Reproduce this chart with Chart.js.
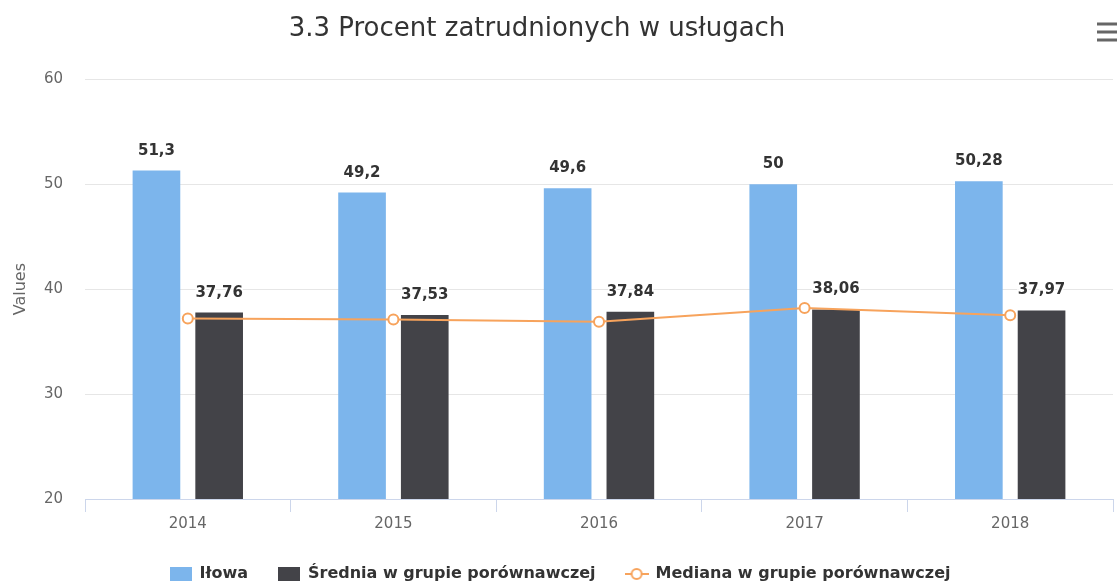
<!doctype html>
<html lang="pl">
<head>
	<meta charset="UTF-8">
	<title>3.3 Procent zatrudnionych w usługach</title>
	<script src="https://cdn.jsdelivr.net/npm/chart.js@4"></script>
	<style>
		html, body { margin: 0; padding: 0; background: #fff; overflow: hidden; }
		#wrap { width: 1120px; height: 585px; }
	</style>
</head>
<body>
	<div id="wrap">
		<canvas id="chart" width="1120" height="585"></canvas>
	</div>
	<script>
		const years = ['2014', '2015', '2016', '2017', '2018'];
		const ilowa = [51.3, 49.2, 49.6, 50, 50.28];
		const srednia = [37.76, 37.53, 37.84, 38.06, 37.97];
		const mediana = [37.2, 37.1, 36.9, 38.2, 37.5];
		const yTicks = [20, 30, 40, 50, 60];

		const BLUE = '#7cb5ec';
		const DARK = '#434348';
		const ORANGE = '#f7a35c';
		const FONT = "'DejaVu Sans', Verdana, sans-serif";

		function boxSymbol(color) {
			const c = document.createElement('canvas');
			c.width = 22; c.height = 14;
			const g = c.getContext('2d');
			g.fillStyle = color;
			g.fillRect(0, 0, 22, 14);
			return c;
		}
		function lineSymbol() {
			const c = document.createElement('canvas');
			c.width = 24; c.height = 14;
			const g = c.getContext('2d');
			g.strokeStyle = ORANGE;
			g.lineWidth = 2;
			g.beginPath(); g.moveTo(0, 7); g.lineTo(24, 7); g.stroke();
			g.beginPath(); g.arc(12, 7, 5, 0, Math.PI * 2);
			g.fillStyle = '#fff'; g.fill(); g.stroke();
			return c;
		}
		const legendSymbols = [boxSymbol(BLUE), boxSymbol(DARK), lineSymbol()];

		const fmt = v => String(v).replace('.', ',');

		// liczby nad słupkami
		const barLabels = {
			id: 'barLabels',
			afterDatasetsDraw(chart) {
				const ctx = chart.ctx;
				ctx.save();
				ctx.font = 'bold 15px ' + FONT;
				ctx.fillStyle = '#333';
				ctx.textAlign = 'center';
				ctx.textBaseline = 'alphabetic';
				[0, 1].forEach(i => {
					const meta = chart.getDatasetMeta(i);
					const data = chart.data.datasets[i].data;
					meta.data.forEach((bar, j) => {
						ctx.lineWidth = 3;
						ctx.strokeStyle = '#fff';
						ctx.strokeText(fmt(data[j]), bar.x, bar.y - 16);
						ctx.fillText(fmt(data[j]), bar.x, bar.y - 16);
					});
				});
				ctx.restore();
			}
		};

		// przesunięcie tytułu, niższa legenda, ikona menu
		const tweaks = {
			id: 'tweaks',
			beforeLayout(chart) {
				const lg = chart.legend;
				if (lg && !lg._patched) {
					const fit = lg.fit;
					lg.fit = function () { fit.call(this); this.height -= 7; };
					lg._patched = true;
				}
			},
			afterLayout(chart) {
				chart.titleBlock.left -= 23;
				chart.titleBlock.right -= 23;
			},
			afterDraw(chart) {
				const ctx = chart.ctx;
				ctx.save();
				ctx.fillStyle = '#666';
				[24, 32, 40].forEach(y => ctx.fillRect(1097, y - 1.5, 20, 3));
				ctx.restore();
			}
		};

		const chart = new Chart(document.getElementById('chart'), {
			type: 'bar',
			data: {
				labels: years,
				datasets: [
					{
						label: 'Iłowa',
						data: ilowa,
						backgroundColor: BLUE,
						order: 1,
						categoryPercentage: 0.61,
						barPercentage: 0.76,
					},
					{
						label: 'Średnia w grupie porównawczej',
						data: srednia,
						backgroundColor: DARK,
						order: 2,
						categoryPercentage: 0.61,
						barPercentage: 0.76,
					},
					{
						type: 'line',
						label: 'Mediana w grupie porównawczej',
						data: mediana,
						borderColor: ORANGE,
						borderWidth: 2,
						pointRadius: 5,
						pointBackgroundColor: '#fff',
						pointBorderColor: ORANGE,
						pointBorderWidth: 2,
						tension: 0,
						order: 0,
					},
				],
			},
			options: {
				responsive: false,
				animation: false,
				devicePixelRatio: 1,
				layout: { padding: { left: 0, right: 0, top: 0, bottom: 0 } },
				plugins: {
					title: {
						display: true,
						text: '3.3 Procent zatrudnionych w usługach',
						color: '#333',
						font: { family: FONT, size: 26, weight: 'normal' },
						padding: { top: 14, bottom: 34 },
					},
					legend: {
						position: 'bottom',
						labels: {
							usePointStyle: true,
							pointStyleWidth: 22,
							boxHeight: 14,
							padding: 30,
							color: '#333',
							font: { family: FONT, size: 16, weight: 'bold' },
							sort: (a, b) => a.datasetIndex - b.datasetIndex,
							generateLabels(chart) {
								const items = Chart.defaults.plugins.legend.labels.generateLabels(chart);
								items.forEach(it => { it.pointStyle = legendSymbols[it.datasetIndex]; });
								return items;
							},
						},
					},
					tooltip: { enabled: false },
				},
				scales: {
					x: {
						grid: { drawOnChartArea: false, tickLength: 13, color: '#ccd6eb' },
						border: { color: '#ccd6eb' },
						ticks: { color: '#666', font: { family: FONT, size: 15 }, padding: 3 },
					},
					y: {
						min: 20,
						max: 60,
						afterBuildTicks: scale => { scale.ticks = yTicks.map(v => ({ value: v })); },
						afterFit: scale => { scale.width = 85; },
						grid: { color: '#e6e6e6', drawTicks: false },
						border: { display: false },
						ticks: { color: '#666', font: { family: FONT, size: 15 }, padding: 22 },
						title: {
							display: true,
							text: 'Values',
							color: '#666',
							font: { family: FONT, size: 16 },
							padding: { top: 11, bottom: 0 },
						},
					},
				},
			},
			plugins: [barLabels, tweaks],
		});
	</script>
</body>
</html>
